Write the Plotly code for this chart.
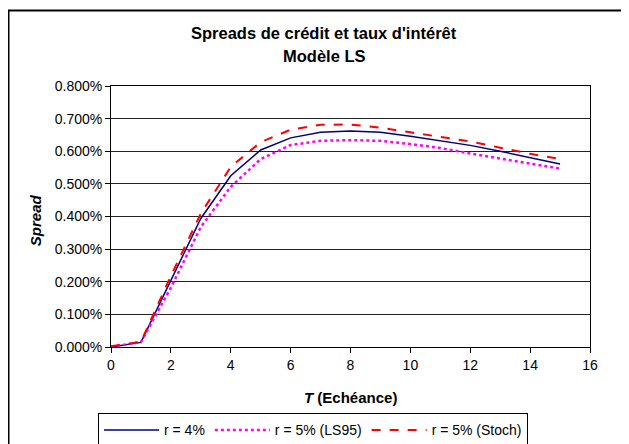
import plotly.graph_objects as go

# Maturities (years)
T = [0, 1, 2, 3, 4, 5, 6, 7, 8, 9, 10, 11, 12, 13, 14, 15]

# Spreads in percent
r4 = [0.000, 0.014, 0.204, 0.394, 0.525, 0.604, 0.641, 0.658, 0.662, 0.658,
      0.646, 0.631, 0.618, 0.600, 0.581, 0.561]
r5_ls95 = [0.001, 0.015, 0.182, 0.368, 0.491, 0.576, 0.619, 0.632, 0.634, 0.632,
           0.622, 0.610, 0.593, 0.578, 0.563, 0.547]
r5_stoch = [0.002, 0.016, 0.218, 0.409, 0.552, 0.628, 0.666, 0.681, 0.682, 0.672,
            0.658, 0.645, 0.630, 0.611, 0.592, 0.576]

names = ["r = 4%", "r = 5% (LS95)", "r = 5% (Stoch)"]
y_ticks = [0.0, 0.1, 0.2, 0.3, 0.4, 0.5, 0.6, 0.7, 0.8]
y_ticktext = [f"{v:.3f}%" for v in y_ticks]
x_ticks = [0, 2, 4, 6, 8, 10, 12, 14, 16]

# The page body adds an 8px offset; work in page pixels and compensate.
OFF = 8
W, H = 629 - OFF, 444 - OFF
L, R, TOP, BOT = 111 - OFF, 590 - OFF, 86 - OFF, 346.7 - OFF
FONT = "Arial, Liberation Sans, sans-serif"


def px(x):
    return (x - OFF - L) / (R - L)


def py(y):
    return (BOT - (y - OFF)) / (BOT - TOP)


fig = go.Figure()
fig.add_trace(go.Scatter(x=T, y=r4, mode="lines", name=names[0],
                         line=dict(color="#000080", width=1.5)))
fig.add_trace(go.Scatter(x=T, y=r5_ls95, mode="lines", name=names[1],
                         line=dict(color="#FF00FF", width=2.5, dash="dot")))
fig.add_trace(go.Scatter(x=T, y=r5_stoch, mode="lines", name=names[2],
                         line=dict(color="#FF0000", width=2, dash="dash")))

fig.update_layout(
    width=W, height=H,
    margin=dict(l=L, r=W - R, t=TOP, b=H - BOT, autoexpand=False),
    paper_bgcolor="white", plot_bgcolor="white",
    font=dict(family=FONT, size=14, color="black"),
    showlegend=True,
    legend=dict(orientation="h", x=px(98), y=py(413), xanchor="left", yanchor="top",
                bordercolor="black", borderwidth=1, font=dict(size=14),
                itemwidth=55, tracegroupgap=0, bgcolor="white"),
    xaxis=dict(range=[0, 16], tickvals=x_ticks, showgrid=False, zeroline=False,
               showline=True, linecolor="black", linewidth=1, mirror=True,
               ticks="outside", ticklen=5, tickcolor="black"),
    yaxis=dict(range=[0, 0.8], tickvals=y_ticks, ticktext=y_ticktext,
               showgrid=True, gridcolor="#222", gridwidth=1, zeroline=False,
               showline=True, linecolor="black", linewidth=1, mirror=True,
               ticks="outside", ticklen=5, tickcolor="black"),
    shapes=[dict(type="rect", xref="paper", yref="paper",
                 x0=px(8.5), x1=px(700), y0=py(10.5), y1=py(500),
                 line=dict(color="black", width=2), layer="below")],
    annotations=[
        dict(text="<b>Spreads de crédit et taux d'intérêt</b>", xref="paper", yref="paper",
             x=px(324), y=py(33), xanchor="center", yanchor="middle",
             showarrow=False, font=dict(size=16.5)),
        dict(text="<b>Modèle LS</b>", xref="paper", yref="paper",
             x=px(324), y=py(56), xanchor="center", yanchor="middle",
             showarrow=False, font=dict(size=16.5)),
        dict(text="<b><i>T</i> (Echéance)</b>", xref="paper", yref="paper",
             x=px(350), y=py(397), xanchor="center", yanchor="middle",
             showarrow=False, font=dict(size=15)),
        dict(text="<b><i>Spread</i></b>", xref="paper", yref="paper",
             x=px(35), y=py(220), xanchor="center", yanchor="middle",
             showarrow=False, textangle=-90, font=dict(size=15)),
    ],
)

fig.write_html("out.html")
